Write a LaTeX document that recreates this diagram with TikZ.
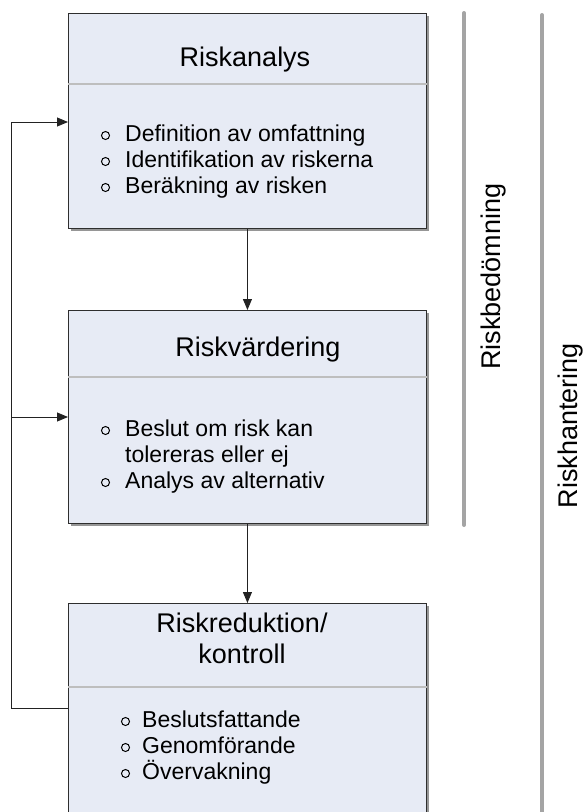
\documentclass[tikz,border=0pt]{standalone}
\usepackage{fontspec}
\setmainfont{Liberation Sans}
\usetikzlibrary{arrows.meta}

\definecolor{boxfill}{HTML}{E7EBF5}
\definecolor{boxedge}{HTML}{2E2E2E}
\definecolor{divline}{HTML}{BEBEBE}
\definecolor{barcol}{HTML}{A4A4A4}
\definecolor{conncol}{HTML}{222222}
\definecolor{shadecol}{HTML}{969696}

\begin{document}
\begin{tikzpicture}[x=1pt,y=-1pt,
  stagebox/.style={draw=boxedge, line width=0.9pt, fill=boxfill, rectangle,
    anchor=north west, inner sep=0pt, minimum width=358pt},
  shade/.style={fill=shadecol},
  divider/.style={draw=divline, line width=2pt},
  title/.style={font=\fontsize{27}{31}\selectfont, anchor=base, inner sep=0pt},
  item/.style={font=\fontsize{23}{26}\selectfont, anchor=base west, inner sep=0pt},
  dot/.style={draw=black, line width=1pt, fill=none, circle, minimum size=8pt, inner sep=0pt},
  conn/.style={draw=conncol, line width=0.9pt},
  arr/.style={conn, -{Triangle[length=11pt,width=9pt]}},
  bar/.style={draw=barcol, line width=4pt, line cap=round},
  side/.style={font=\fontsize{27}{31}\selectfont, rotate=90, anchor=base, inner sep=0pt}]

\useasboundingbox (0,0) rectangle (582,812);
\clip (0,0) rectangle (582,812);

% box shadows
\fill[shade] (71,16) rectangle (429,231);
\fill[shade] (71,313) rectangle (429,526);
\fill[shade] (71,606) rectangle (429,836);

% three process boxes
\node[stagebox, minimum height=215pt] (b1) at (68,13) {};
\node[stagebox, minimum height=213pt] (b2) at (68,310) {};
\node[stagebox, minimum height=230pt] (b3) at (68,603) {};

% header separators
\draw[divider] (b1.west |- 0,84) -- (b1.east |- 0,84);
\draw[divider] (b2.west |- 0,377) -- (b2.east |- 0,377);
\draw[divider] (b3.west |- 0,687) -- (b3.east |- 0,687);

% box 1
\node[title] (t1) at (245,66) {Riskanalys};
\node[dot] (d11) at (105.5,135.5) {};
\node[item] (i11) at (125,141) {Definition av omfattning};
\node[dot] (d12) at (105.5,161.5) {};
\node[item] (i12) at (125,167) {Identifikation av riskerna};
\node[dot] (d13) at (105.5,187.5) {};
\node[item] (i13) at (125,193) {Beräkning av risken};

% box 2
\node[title] (t2) at (258,356) {Riskvärdering};
\node[dot] (d21) at (105.5,430.5) {};
\node[item] (i21) at (125,436) {Beslut om risk kan};
\node[item] (i22) at (125,462) {tolereras eller ej};
\node[dot] (d23) at (105.5,482.5) {};
\node[item] (i23) at (125,488) {Analys av alternativ};

% box 3
\node[title] (t31) at (242,632) {Riskreduktion/};
\node[title] (t32) at (242,663) {kontroll};
\node[dot] (d31) at (125.5,721.5) {};
\node[item] (i31) at (142,727) {Beslutsfattande};
\node[dot] (d32) at (125.5,747.5) {};
\node[item] (i32) at (142,753) {Genomförande};
\node[dot] (d33) at (125.5,773.5) {};
\node[item] (i33) at (142,779) {Övervakning};

% forward flow
\draw[arr] (b1.south) -- (b2.north);
\draw[arr] (b2.south) -- (b3.north);

% feedback loop
\coordinate (out3) at (68,708);
\coordinate (in1) at (68,122);
\coordinate (in2) at (68,417);
\coordinate (rail) at (11,0);
\draw[conn] (out3) -- (out3 -| rail) -- (in1 -| rail);
\draw[arr] (in1 -| rail) -- (in1);
\draw[arr] (in2 -| rail) -- (in2);

% phase brackets
\coordinate (p1a) at (464,13);
\coordinate (p1b) at (464,525);
\coordinate (p2a) at (542,15);
\coordinate (p2b) at (542,830);
\draw[bar] (p1a) -- (p1b);
\draw[bar] (p2a) -- (p2b);
\node[side] (s1) at (500,276.5) {Riskbedömning};
\node[side] (s2) at (577.5,425.5) {Riskhantering};
\end{tikzpicture}
\end{document}
